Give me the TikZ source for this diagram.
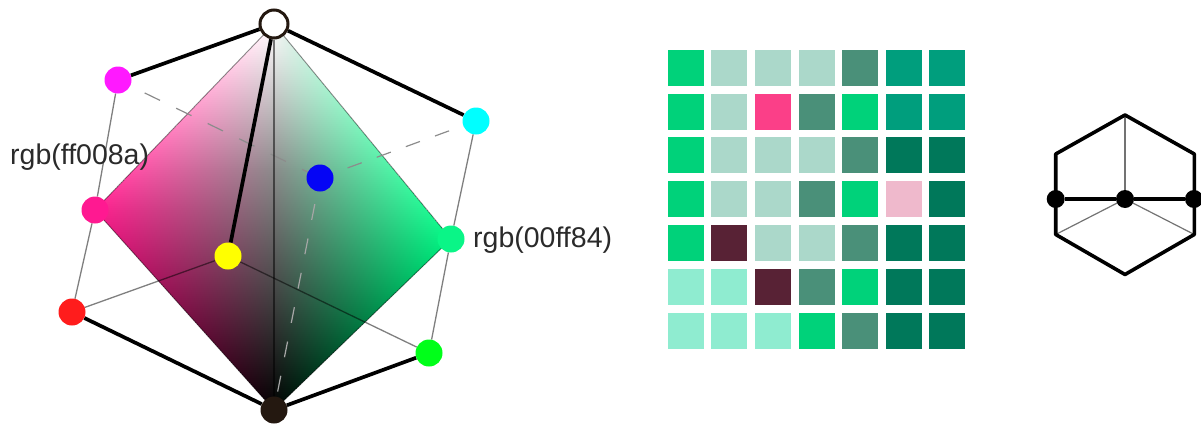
\documentclass[tikz,border=0pt]{standalone}
\usepackage{fontspec}
\setmainfont{Liberation Sans}
\usetikzlibrary{backgrounds}
\definecolor{kpink}{HTML}{FF1F8E}
\definecolor{kspring}{HTML}{00F884}
\definecolor{ktop}{HTML}{EEEEEE}
\definecolor{ca}{HTML}{00D27A}
\definecolor{cb}{HTML}{ABD8CA}
\definecolor{cc}{HTML}{4A9079}
\definecolor{cd}{HTML}{009E7D}
\definecolor{ce}{HTML}{00785A}
\definecolor{cf}{HTML}{8FECD0}
\definecolor{cp}{HTML}{FB3F88}
\definecolor{cq}{HTML}{EFB9CC}
\definecolor{cm}{HTML}{582235}
\definecolor{inkc}{HTML}{2A2A2A}
\definecolor{vM}{HTML}{FF19FF}
\definecolor{vC}{HTML}{00FFFF}
\definecolor{vB}{HTML}{0505F5}
\definecolor{vY}{HTML}{FFFF00}
\definecolor{vR}{HTML}{FF1C1C}
\definecolor{vG}{HTML}{00FF19}
\definecolor{vK}{HTML}{241810}
\definecolor{vP}{HTML}{FF1991}
\definecolor{vS}{HTML}{0AF587}
\pgfdeclarelayer{under}
\pgfsetlayers{under,main}
\tikzset{
  x=1pt,y=-1pt,
  vertex/.style={circle,inner sep=0pt,minimum size=27pt,fill=#1},
  thickedge/.style={line width=3.7pt,black},
  thinedge/.style={line width=1.3pt,black,opacity=.5},
  dashedge/.style={line width=1.2pt,black!45,dash pattern=on 17pt off 18pt,dash phase=19pt},
  kiteedge/.style={line width=.9pt,black,opacity=.45},
  cell/.style={inner sep=0pt,minimum size=36pt,fill=#1},
  dotn/.style={circle,inner sep=0pt,minimum size=18pt,fill=black},
  corner/.style={inner sep=0pt,minimum size=0pt},
  hexedge/.style={line width=3.6pt,black,line join=round},
  hexthin/.style={line width=1.2pt,black!55},
  tag/.style={inner sep=0pt,text=inkc,font=\fontsize{28.5}{31}\selectfont}
}
\begin{document}
\begin{tikzpicture}
\useasboundingbox (0,0) rectangle (1201,423);
% cube vertices
\node[vertex=white,draw=vK,line width=3pt,minimum size=28pt] (W) at (274,24) {};
\node[vertex=vM] (M) at (118,80) {};
\node[vertex=vC] (C) at (476,121) {};
\node[vertex=vB] (B) at (320,178) {};
\node[vertex=vY] (Y) at (228,256) {};
\node[vertex=vR] (R) at (72,312) {};
\node[vertex=vG] (G) at (429,353) {};
\node[vertex=vK] (K) at (274,410) {};
\node[vertex=vP] (P) at (95,210) {};
\node[vertex=vS] (S) at (451,239) {};
\begin{pgfonlayer}{under}
  % left half of the kite
  \begin{scope}
    \clip (W.center) -- (P.center) -- (K.center) -- cycle;
    \foreach \yy in {24,26,...,410}{
      \pgfmathsetmacro\uv{(\yy-24)/386}
      \pgfmathsetmacro\gv{\uv<0.37 ? 100-121*\uv : max(0,55*(1-\uv)/0.63)}
      \pgfmathsetmacro\tv{\yy<210 ? (\yy-24)/186*100 : (1-(\yy-210)/200)*100}
      \pgfmathsetmacro\xe{\yy<210 ? 274-(\yy-24)/186*179 : 95+(\yy-210)/200*179}
      \ifdim\yy pt<210pt
        \colorlet{lc}{kpink!\tv!white}
      \else
        \colorlet{lc}{kpink!\tv!black}
      \fi
      \colorlet{mc}{white!\gv!black}
      \shade[left color=lc,right color=mc] (\xe-1,\yy) rectangle (274.5,\yy+2.6);
    }
  \end{scope}
  % right half of the kite
  \begin{scope}
    \clip (W.center) -- (S.center) -- (K.center) -- cycle;
    \foreach \yy in {24,26,...,410}{
      \pgfmathsetmacro\uv{(\yy-24)/386}
      \pgfmathsetmacro\gv{\uv<0.37 ? 100-121*\uv : max(0,55*(1-\uv)/0.63)}
      \pgfmathsetmacro\tv{\yy<239 ? (\yy-24)/215*100 : (1-(\yy-239)/171)*100}
      \pgfmathsetmacro\xe{\yy<239 ? 274+(\yy-24)/215*177 : 451-(\yy-239)/171*177}
      \ifdim\yy pt<239pt
        \colorlet{rc}{kspring!\tv!ktop}
      \else
        \colorlet{rc}{kspring!\tv!black}
      \fi
      \colorlet{mc}{white!\gv!black}
      \shade[left color=mc,right color=rc] (273.5,\yy) rectangle (\xe+1,\yy+2.6);
    }
  \end{scope}
  \draw[kiteedge] (W.center) -- (P.center) -- (K.center) -- (S.center) -- cycle;
  % hidden edges
  \draw[dashedge] (M) -- (B);
  \draw[dashedge,dash pattern=on 15pt off 16pt,dash phase=16pt] (C) -- (B);
  \draw[dashedge,black!35,dash pattern=on 16pt off 19pt,dash phase=22pt] (B) -- (K);
  % thin edges
  \draw[thinedge] (W) -- (K);
  \draw[thinedge] (M) -- (P);
  \draw[thinedge] (P) -- (R);
  \draw[thinedge] (C) -- (S);
  \draw[thinedge] (S) -- (G);
  \draw[thinedge] (R) -- (Y);
  \draw[thinedge] (Y) -- (G);
  % thick edges
  \draw[thickedge] (W) -- (M);
  \draw[thickedge] (W) -- (C);
  \draw[thickedge] (W) -- (Y);
  \draw[thickedge] (R) -- (K);
  \draw[thickedge] (G) -- (K);
\end{pgfonlayer}
% labels
\node[tag,anchor=west] (LP) at (10,157) {rgb(ff008a)};
\node[tag,anchor=west] (LS) at (473,240) {rgb(00ff84)};
% colour grid
\foreach \cl [count=\r from 0] in {{ca,cb,cb,cb,cc,cd,cd},{ca,cb,cp,cc,ca,cd,cd},{ca,cb,cb,cb,cc,ce,ce},{ca,cb,cb,cc,ca,cq,ce},{ca,cm,cb,cb,cc,ce,ce},{cf,cf,cm,cc,ca,ce,ce},{cf,cf,cf,ca,cc,ce,ce}}{
  \foreach \c [count=\q from 0] in \cl {
    \node[cell=\c] (cell-\r-\q) at (685.7+43.6*\q,67.7+43.8*\r) {};
  }
}
% hexagon
\node[corner] (HT) at (1125,115) {};
\node[corner] (HUL) at (1055.7,154) {};
\node[corner] (HLL) at (1055.7,234.5) {};
\node[corner] (HB) at (1125,274.5) {};
\node[corner] (HLR) at (1194.3,234.5) {};
\node[corner] (HUR) at (1194.3,154) {};
\node[dotn] (HC) at (1125,199) {};
\node[dotn] (HL) at (1055.7,199) {};
\node[dotn] (HR) at (1194,199) {};
\begin{pgfonlayer}{under}
  \draw[hexthin] (HC) -- (HT.center);
  \draw[hexthin] (HC) -- (HLL.center);
  \draw[hexthin] (HC) -- (HLR.center);
  \draw[hexedge] (HT.center) -- (HUL.center) -- (HLL.center) -- (HB.center) -- (HLR.center) -- (HUR.center) -- cycle;
  \draw[hexedge] (HL) -- (HC);
  \draw[hexedge] (HC) -- (HR);
\end{pgfonlayer}
\end{tikzpicture}
\end{document}
